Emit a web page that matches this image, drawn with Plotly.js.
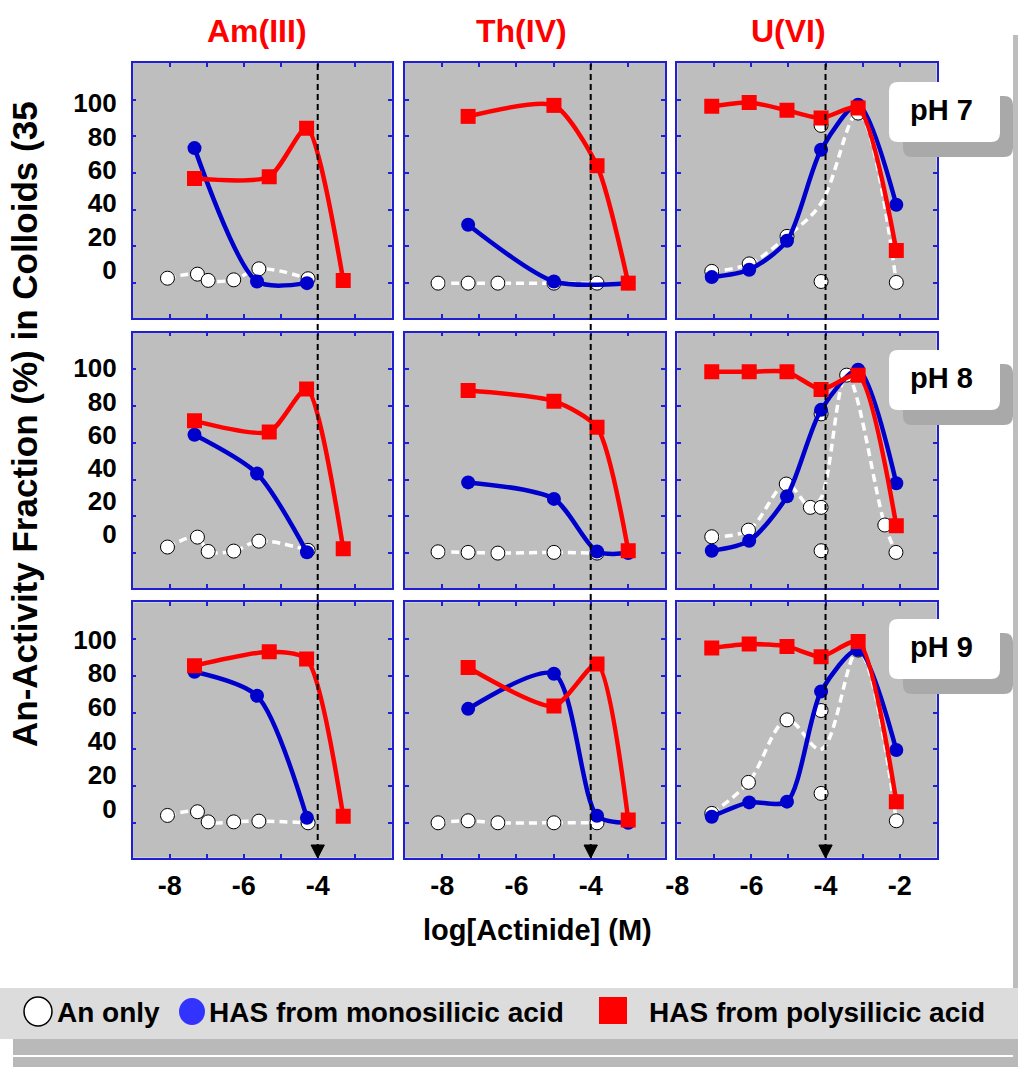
<!DOCTYPE html>
<html>
<head>
<meta charset="utf-8">
<script src="https://cdn.plot.ly/plotly-3.0.1.min.js"></script>
<style>html,body{margin:0;padding:0;background:#fff;}</style>
</head>
<body>
<div id="chart" style="width:1018px;height:1067px;"></div>
<script>
// ---------------- DATA ----------------
const columnTitles = ['Am(III)', 'Th(IV)', 'U(VI)'];
const rowLabels = ['pH 7', 'pH 8', 'pH 9'];
const legendLabels = ['An only', 'HAS from monosilicic acid', 'HAS from polysilicic acid'];
const xTitle = 'log[Actinide] (M)';
const yTitle = 'An-Activity Fraction (%) in Colloids (35';

const xTickValsAmTh = [-9, -8, -7, -6, -5, -4, -3, -2];
const xTickTextAmTh = ['', '-8', '', '-6', '', '-4', '', ''];
const xTickValsU = [-8, -7, -6, -5, -4, -3, -2, -1];
const xTickTextU = ['-8', '', '-6', '', '-4', '', '-2', ''];
const yTickVals = [0, 20, 40, 60, 80, 100];
const yTickText = ['0', '20', '40', '60', '80', '100'];
const refLogConc = -4;

// Am(III)
const amPolyX = [-7.33, -5.31, -4.30, -3.31];
const amMonoX = [-7.33, -5.64, -4.29];
const amAnX = [-8.06, -7.25, -6.96, -6.27, -5.59, -4.26];
const am7Poly = [57, 58, 84.5, 1.5];
const am7Mono = [73.6, 0.9, 0];
const am7An = [2.7, 4.9, 1.5, 1.8, 7.8, 2.4];
const am8Poly = [72, 66, 89.3, 2.4];
const am8Mono = [64.4, 43.3, 0.5];
const am8An = [3.3, 8.7, 0.9, 1.1, 6.5, 1.5];
const am9Poly = [85.5, 93.1, 89.1, 3.6];
const am9Mono = [82.2, 69.1, 2.7];
const am9An = [4, 6, 0.5, 0.5, 0.9, 0];

// Th(IV)
const thPolyX = [-7.30, -4.99, -3.83, -2.99];
const thMonoX = [-7.30, -4.99, -3.83, -2.99];
const th7MonoX = [-7.30, -4.99, -2.99];
const thAnX = [-8.11, -7.30, -6.50, -4.99, -3.83];
const th7Poly = [90.9, 96.9, 64, 0];
const th7Mono = [31.8, 0.9, 0];
const th7An = [0, 0, 0, 0, 0];
const th8Poly = [88.5, 82.7, 68.5, 1.3];
const th8Mono = [38.5, 29.5, 0.9, 0];
const th8An = [0.7, 0.4, 0, 0.4, 0];
const th9Poly = [84.5, 63.6, 86.4, 1.5];
const th9Mono = [62, 81.1, 3.8, 0];
const th9An = [0, 1.1, 0, 0, 0];

// U(VI)
const uX = [-7.07, -6.06, -5.04, -4.12, -3.12, -2.09];
const u7Poly = [96.4, 98.5, 94.2, 90, 95.5, 17.8];
const u7Mono = [3.3, 7.3, 23.1, 72.7, 97.3, 42.7];
const u7AnX = [-7.07, -6.06, -5.04, -4.12, -4.12, -3.12, -2.09];
const u7An = [6.4, 10.5, 25.5, 86, 0.9, 92.7, 0.4];
const u7AnCurveX = [-7.07, -6.06, -5.04, -4.12, -3.12, -2.09];
const u7AnCurve = [6.4, 10.5, 25.5, 43.5, 92.7, 0.4];
const u8Poly = [98.7, 98.7, 98.7, 89.1, 96.9, 14.9];
const u8Mono = [1.3, 6.7, 30.9, 78, 99.8, 38];
const u8AnX = [-7.07, -6.08, -5.06, -4.41, -4.12, -4.12, -4.12, -3.43, -2.40, -2.10];
const u8An = [8.9, 12.5, 37.6, 24.9, 24.9, 75.8, 1.3, 96.9, 15.3, 0.4];
const u8AnCurveX = [-7.07, -6.08, -5.06, -4.41, -4.12, -3.43, -2.40, -2.10];
const u8AnCurve = [8.9, 12.5, 37.6, 25, 30, 96.9, 15.3, 0.4];
const u9Poly = [95.1, 97.3, 96, 90.4, 98.7, 11.5];
const u9Mono = [3.3, 11.1, 11.5, 71.5, 94.2, 39.6];
const u9AnX = [-7.07, -6.08, -5.04, -4.12, -4.12, -3.12, -2.09];
const u9An = [5.1, 22, 56, 61.1, 16, 94, 1.1];
const u9AnCurveX = [-7.07, -6.08, -5.04, -4.12, -3.12, -2.09];
const u9AnCurve = [5.1, 22, 56, 40, 94, 1.1];

// ---------------- BUILD ----------------
const W = 1018, H = 1067;
const px = x => x / W;
const py = y => 1 - y / H;
const FONT = 'Liberation Sans, Arial, Helvetica, sans-serif';
const AXBLUE = '#2020d0';
const RED = '#ff0000';
const DBLUE = '#0000cc';

const colPx = [[132.7, 391.7], [405, 665], [677.3, 936.7]];
const rowPx = [[63, 318], [332.7, 588], [602.3, 857.7]];

const panels = [
  {r:0,c:0, anX:amAnX, an:am7An, anCX:amAnX, anC:am7An, monoX:amMonoX, mono:am7Mono, polyX:amPolyX, poly:am7Poly},
  {r:0,c:1, anX:thAnX, an:th7An, anCX:thAnX, anC:th7An, monoX:th7MonoX, mono:th7Mono, polyX:thPolyX, poly:th7Poly},
  {r:0,c:2, anX:u7AnX, an:u7An, anCX:u7AnCurveX, anC:u7AnCurve, monoX:uX, mono:u7Mono, polyX:uX, poly:u7Poly},
  {r:1,c:0, anX:amAnX, an:am8An, anCX:amAnX, anC:am8An, monoX:amMonoX, mono:am8Mono, polyX:amPolyX, poly:am8Poly},
  {r:1,c:1, anX:thAnX, an:th8An, anCX:thAnX, anC:th8An, monoX:thMonoX, mono:th8Mono, polyX:thPolyX, poly:th8Poly},
  {r:1,c:2, anX:u8AnX, an:u8An, anCX:u8AnCurveX, anC:u8AnCurve, monoX:uX, mono:u8Mono, polyX:uX, poly:u8Poly},
  {r:2,c:0, anX:amAnX, an:am9An, anCX:amAnX, anC:am9An, monoX:amMonoX, mono:am9Mono, polyX:amPolyX, poly:am9Poly},
  {r:2,c:1, anX:thAnX, an:th9An, anCX:thAnX, anC:th9An, monoX:thMonoX, mono:th9Mono, polyX:thPolyX, poly:th9Poly},
  {r:2,c:2, anX:u9AnX, an:u9An, anCX:u9AnCurveX, anC:u9AnCurve, monoX:uX, mono:u9Mono, polyX:uX, poly:u9Poly}
];

const traces = [];
const layout = {
  width: W, height: H,
  margin: {l:0, r:0, t:0, b:0, pad:0},
  paper_bgcolor: '#ffffff',
  plot_bgcolor: '#bebebe',
  showlegend: false,
  font: {family: FONT, color: '#000'},
  shapes: [], annotations: []
};

panels.forEach((p, i) => {
  const k = i + 1;
  const xs = k === 1 ? 'x' : 'x' + k;
  const ys = k === 1 ? 'y' : 'y' + k;
  const isU = p.c === 2;
  layout[k === 1 ? 'xaxis' : 'xaxis' + k] = {
    domain: [px(colPx[p.c][0]), px(colPx[p.c][1])],
    range: isU ? [-8, -1] : [-9, -2],
    anchor: ys,
    showline: true, linecolor: AXBLUE, linewidth: 1.5, mirror: 'ticks',
    ticks: 'inside', ticklen: 4, tickwidth: 1.5, tickcolor: AXBLUE,
    tickmode: 'array',
    tickvals: isU ? xTickValsU : xTickValsAmTh,
    ticktext: isU ? xTickTextU : xTickTextAmTh,
    showticklabels: p.r === 2,
    ticklabelstandoff: 3,
    tickfont: {family: FONT, size: 27, color: '#000', weight: 'bold'},
    showgrid: false, zeroline: false, fixedrange: true
  };
  layout[k === 1 ? 'yaxis' : 'yaxis' + k] = {
    domain: [py(rowPx[p.r][1]), py(rowPx[p.r][0])],
    range: [-19, 120],
    anchor: xs,
    showline: true, linecolor: AXBLUE, linewidth: 1.5, mirror: 'ticks',
    ticks: 'inside', ticklen: 4, tickwidth: 1.5, tickcolor: AXBLUE,
    tickmode: 'array', tickvals: yTickVals, showticklabels: false,
    showgrid: false, zeroline: false, fixedrange: true
  };
  const sm = 0.65;
  // An only: dashed white curve + open circles
  traces.push({x: p.anCX, y: p.anC, xaxis: xs, yaxis: ys, mode: 'lines', name: legendLabels[0],
    line: {color: '#ffffff', width: 3.5, dash: '8px,5px', shape: 'spline', smoothing: 1}, hoverinfo: 'skip'});
  traces.push({x: p.anX, y: p.an, xaxis: xs, yaxis: ys, mode: 'markers', name: legendLabels[0],
    marker: {symbol: 'circle', size: 14, color: '#ffffff', line: {color: '#000', width: 1}}});
  // HAS from monosilicic acid
  traces.push({x: p.monoX, y: p.mono, xaxis: xs, yaxis: ys, mode: 'lines+markers', name: legendLabels[1],
    line: {color: DBLUE, width: 4.5, shape: 'spline', smoothing: 0.75},
    marker: {symbol: 'circle', size: 14, color: DBLUE}});
  // HAS from polysilicic acid
  traces.push({x: p.polyX, y: p.poly, xaxis: xs, yaxis: ys, mode: 'lines+markers', name: legendLabels[2],
    line: {color: RED, width: 4.5, shape: 'spline', smoothing: sm},
    marker: {symbol: 'square', size: 15, color: RED}});
});

// Row tick-label axes (labels sit slightly offset from the ticks, as in the original figure)
const labelAxes = [
  {id: 10, base: 'y', anchor: 'x', range: [-28.6, 123.9]},
  {id: 11, base: 'y4', anchor: 'x4', range: [-32.5, 121.5]},
  {id: 12, base: 'y7', anchor: 'x7', range: [-28.9, 122.0]}
];
labelAxes.forEach(a => {
  layout['yaxis' + a.id] = {
    overlaying: a.base, anchor: a.anchor, side: 'left', range: a.range,
    tickmode: 'array', tickvals: yTickVals, ticktext: yTickText,
    ticks: '', showline: false, showgrid: false, zeroline: false,
    showticklabels: true, ticklabelstandoff: 15,
    tickfont: {family: FONT, size: 26, color: '#000', weight: 'bold'}, fixedrange: true
  };
  // placeholder (no points) so the label axis is attached to its subplot
  traces.push({x: [null], y: [null], xaxis: a.anchor, yaxis: 'y' + a.id, mode: 'markers',
    marker: {opacity: 0}, hoverinfo: 'skip', showlegend: false});
});

// Decorations: right bar, legend band
layout.shapes.push({type:'rect', xref:'paper', yref:'paper', x0:px(1013), x1:px(1018), y0:py(1067), y1:py(35),
  fillcolor:'#bdbdbd', line:{width:0}});
layout.shapes.push({type:'rect', xref:'paper', yref:'paper', x0:px(13), x1:px(1018), y0:py(1055), y1:py(1039),
  fillcolor:'#b9b9b9', line:{width:0}});
layout.shapes.push({type:'rect', xref:'paper', yref:'paper', x0:px(13), x1:px(1018), y0:py(1067), y1:py(1057),
  fillcolor:'#b9b9b9', line:{width:0}});
layout.shapes.push({type:'rect', xref:'paper', yref:'paper', x0:px(0), x1:px(1018), y0:py(1039), y1:py(988),
  fillcolor:'#dcdcdc', line:{width:0}});

// Reference concentration: dashed line with arrow, per column
[7, 8, 9].forEach(k => {
  layout.shapes.push({type:'line', xref:'x' + k, yref:'paper', x0:refLogConc, x1:refLogConc,
    y0:py(64), y1:py(848), line:{color:'#000', width:2, dash:'6px,4px'}});
  layout.shapes.push({type:'path', xref:'x' + k, yref:'paper',
    path:`M${refLogConc - 0.18},${py(845)} L${refLogConc + 0.18},${py(845)} L${refLogConc},${py(858)} Z`,
    fillcolor:'#000', line:{color:'#000', width:1}});
});

// pH boxes
function rr(x0, y0, x1, y1, r) {
  const P = (x, y) => px(x) + ',' + py(y);
  return `M${P(x0 + r, y0)} L${P(x1 - r, y0)} Q${P(x1, y0)} ${P(x1, y0 + r)} L${P(x1, y1 - r)} Q${P(x1, y1)} ${P(x1 - r, y1)} ` +
         `L${P(x0 + r, y1)} Q${P(x0, y1)} ${P(x0, y1 - r)} L${P(x0, y0 + r)} Q${P(x0, y0)} ${P(x0 + r, y0)} Z`;
}
const phTop = [82, 350, 619];
phTop.forEach((t, i) => {
  layout.shapes.push({type:'path', xref:'paper', yref:'paper', path: rr(903, t + 14, 1013, t + 75, 9),
    fillcolor:'#a9a9a9', line:{width:0}});
  layout.shapes.push({type:'path', xref:'paper', yref:'paper', path: rr(889, t, 1000, t + 60, 9),
    fillcolor:'#ffffff', line:{width:0}});
  layout.annotations.push({xref:'paper', yref:'paper', x:px(941), y:py(t + 28), xanchor:'center', yanchor:'middle',
    text: rowLabels[i], showarrow:false, font:{family:FONT, size:29, color:'#000', weight:'bold'}});
});

// Column titles
const colTitleX = [257, 521, 788];
columnTitles.forEach((t, i) => {
  layout.annotations.push({xref:'paper', yref:'paper', x:px(colTitleX[i]), y:py(31), xanchor:'center', yanchor:'middle',
    text:t, showarrow:false, font:{family:FONT, size:32, color:RED, weight:'bold'}});
});

// Axis titles
layout.annotations.push({xref:'paper', yref:'paper', x:px(537), y:py(930), xanchor:'center', yanchor:'middle',
  text:xTitle, showarrow:false, font:{family:FONT, size:29, color:'#000', weight:'bold'}});
layout.annotations.push({xref:'paper', yref:'paper', x:px(24), y:py(424), xanchor:'center', yanchor:'middle',
  textangle:-90, text:yTitle, showarrow:false, font:{family:FONT, size:35, color:'#000', weight:'bold'}});

// Legend (custom, horizontal)
layout.shapes.push({type:'circle', xref:'paper', yref:'paper', x0:px(24), x1:px(52), y0:py(1026), y1:py(997),
  fillcolor:'#ffffff', line:{color:'#000', width:1.5}});
layout.shapes.push({type:'circle', xref:'paper', yref:'paper', x0:px(179), x1:px(205), y0:py(1025), y1:py(998),
  fillcolor:'#3333ff', line:{width:0}});
layout.shapes.push({type:'rect', xref:'paper', yref:'paper', x0:px(599), x1:px(627), y0:py(1024), y1:py(997),
  fillcolor:'#ff0000', line:{width:0}});
const legTextX = [55, 207, 647];
legendLabels.forEach((t, i) => {
  layout.annotations.push({xref:'paper', yref:'paper', x:px(legTextX[i]), y:py(1012), xanchor:'left', yanchor:'middle',
    text:t, showarrow:false, font:{family:FONT, size:28, color:'#000', weight:'bold'}});
});

Plotly.newPlot('chart', traces, layout, {displayModeBar:false, responsive:false});
</script>
</body>
</html>
